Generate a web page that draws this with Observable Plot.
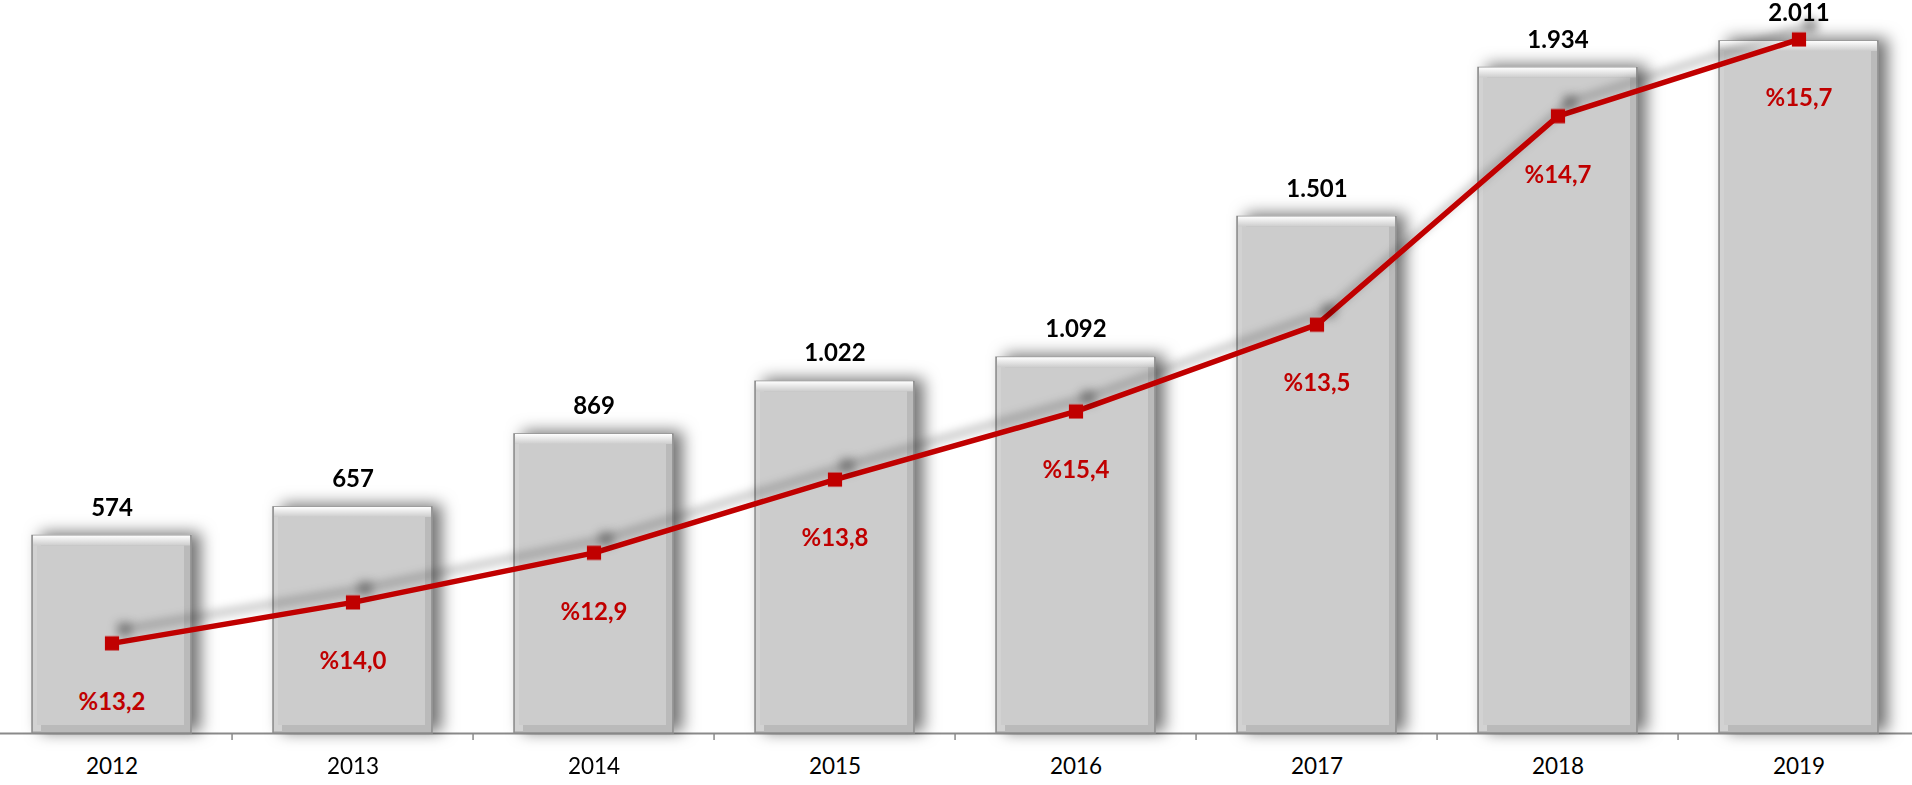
<!DOCTYPE html>
<html>
<head>
<meta charset="utf-8">
<script src="https://cdn.jsdelivr.net/npm/d3@7"></script>
<script src="https://cdn.jsdelivr.net/npm/@observablehq/plot@0.6"></script>
<style>
  html, body { margin: 0; padding: 0; background: #fff; overflow: hidden; }
</style>
</head>
<body>
<div id="chart"></div>
<script>
// ---- data ----
const years = ["2012", "2013", "2014", "2015", "2016", "2017", "2018", "2019"];
const values = [574, 657, 869, 1022, 1092, 1501, 1934, 2011];
const shares = [13.2, 14.0, 12.9, 13.8, 15.4, 13.5, 14.7, 15.7];
// position of the red line (secondary series, in bar units)
const lineLevels = [262, 381, 525, 738, 936, 1188, 1794, 2017];

const data = years.map((year, i) => ({
  year,
  value: values[i],
  share: shares[i],
  level: lineLevels[i]
}));

const fmtValue = v => d3.format(",")(v).replace(/,/g, ".");
const fmtShare = s => "%" + s.toFixed(1).replace(".", ",");

const W = 1912, H = 785;
const xRange = [-12, 1923];
const step = (xRange[1] - xRange[0]) / years.length;
const red = "#C00000";

const svg = Plot.plot({
  width: W,
  height: H,
  marginTop: 0,
  marginBottom: 52,
  marginLeft: 0,
  marginRight: 0,
  style: { fontFamily: "Lato, 'Open Sans', sans-serif", background: "#fff", overflow: "visible" },
  x: { domain: years, range: xRange, paddingInner: 0.34, paddingOuter: 0.17, align: 0.5, label: null },
  y: { domain: [0, 2130], axis: null },
  marks: [
    // baseline
    Plot.ruleY([0], { stroke: "#8a8a8a", strokeWidth: 2 }),
    // boundary ticks between categories
    Plot.ruleX(years.slice(1), { x: d => d, y1: 0, y2: 0, insetBottom: -7, dx: -step / 2, stroke: "#8a8a8a", strokeWidth: 1.5 }),
    // bar base (edges + shadow)
    Plot.barY(data, { x: "year", y: "value", fill: "#bababa", stroke: "#8c8c8c", strokeWidth: 1.5, ariaDescription: "barbase" }),
    // left lighter edge
    Plot.barY(data, { x: "year", y: "value", fill: "#d2d2d2", insetLeft: 1, insetTop: 2, insetBottom: 2, insetRight: 150 }),
    // bar face
    Plot.barY(data, { x: "year", y: "value", fill: "#cccccc", insetLeft: 5, insetRight: 7, insetTop: 10, insetBottom: 8 }),
    // top bevel highlight
    Plot.barY(data, { x: "year", y1: "value", y2: "value", insetBottom: -10, insetLeft: 1, insetRight: 1, fill: "url(#bevelTop)" }),
    // red line with markers
    Plot.line(data, { x: "year", y: "level", stroke: red, strokeWidth: 5.5, ariaDescription: "redline" }),
    Plot.dot(data, { x: "year", y: "level", symbol: "square", r: 8, fill: red, stroke: null, ariaDescription: "reddots" }),
    // value labels above bars
    Plot.text(data, { x: "year", y: "value", text: d => fmtValue(d.value), dy: -28, fontSize: 24, fontWeight: "bold", fill: "#000" }),
    // share labels below line points
    Plot.text(data, { x: "year", y: "level", text: d => fmtShare(d.share), dy: 59, fontSize: 24, fontWeight: "bold", fill: red }),
    // year axis
    Plot.axisX({ tickSize: 0, tickPadding: 25, fontSize: 22.5, fill: "#000", label: null })
  ]
});

const s = d3.select(svg);
s.insert("defs", ":first-child").html(`
  <linearGradient id="bevelTop" x1="0" y1="0" x2="0" y2="1">
    <stop offset="0" stop-color="#ffffff"/>
    <stop offset="0.5" stop-color="#e6e6e6"/>
    <stop offset="1" stop-color="#cdcdcd"/>
  </linearGradient>
  <filter id="barShadow" x="-10%" y="-20%" width="120%" height="140%">
    <feDropShadow dx="9" dy="-2" stdDeviation="8" flood-color="#000" flood-opacity="0.55"/>
  </filter>
  <filter id="lineShadow" x="-10%" y="-20%" width="120%" height="140%">
    <feDropShadow dx="12" dy="-14" stdDeviation="5" flood-color="#000" flood-opacity="0.3"/>
  </filter>
`);
s.selectAll('g[aria-description="barbase"]').attr("filter", "url(#barShadow)");
s.selectAll('g[aria-description="redline"]').attr("filter", "url(#lineShadow)");
s.selectAll('g[aria-description="reddots"]').attr("filter", "url(#lineShadow)");

document.getElementById("chart").appendChild(svg);
</script>
</body>
</html>
